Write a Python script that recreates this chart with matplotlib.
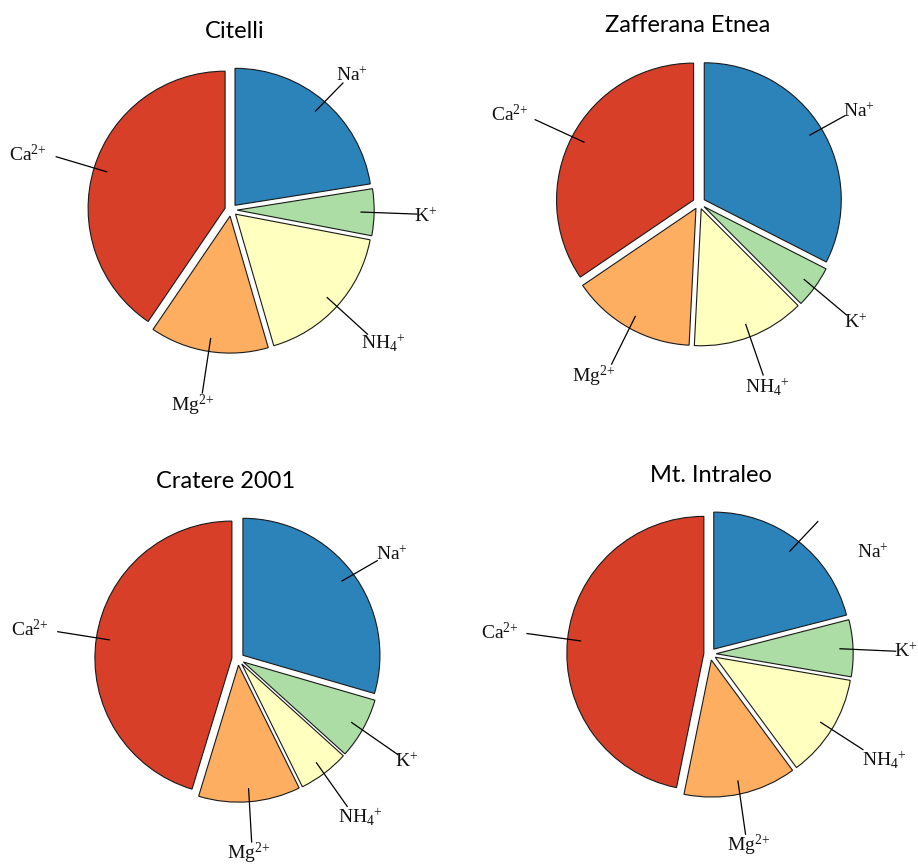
import numpy as np
import matplotlib
matplotlib.use("Agg")
import matplotlib.pyplot as plt

plt.rcParams["mathtext.fontset"] = "custom"
plt.rcParams["mathtext.rm"] = "Liberation Serif"
plt.rcParams["mathtext.it"] = "Liberation Serif"
plt.rcParams["mathtext.default"] = "rm"

# ---- data (percent of cations) ----
ION_LABELS = [r"Na$^{+}$", r"K$^{+}$", r"NH$_{4}{}^{+}$", r"Mg$^{2\!+}$", r"Ca$^{2\!+}$"]
ION_COLORS = ["#2C83BA", "#ABDDA4", "#FFFFBF", "#FDAE61", "#D73F29"]

SITES = ["Citelli", "Zafferana Etnea", "Cratere 2001", "Mt. Intraleo"]
CITELLI = [22.5, 5.5, 17.5, 14.0, 40.5]
ZAFFERANA = [32.5, 5.0, 13.3, 14.7, 34.5]
CRATERE = [29.5, 7.2, 6.0, 12.0, 45.3]
INTRALEO = [21.0, 6.7, 12.2, 13.3, 46.8]
VALUES = [CITELLI, ZAFFERANA, CRATERE, INTRALEO]

# ---- layout (pixels / radius units) ----
W, H = 918, 865
R = 137
CENTERS = [(231, 210), (699, 203), (238, 659), (710, 654)]
TITLE_POS = [(235, 38), (688, 32), (226, 488), (711, 482)]
# leader-line ends, relative to pie centre, in radius units
LINE_END = [
    [(0.82, 0.93), (1.36, -0.03), (1.00, -0.91), (-0.21, -1.34), (-1.28, 0.39)],
    [(1.07, 0.64), (1.08, -0.82), (0.47, -1.26), (-0.64, -1.18), (-1.20, 0.61)],
    [(1.02, 0.72), (1.17, -0.70), (0.80, -1.08), (0.10, -1.34), (-1.32, 0.20)],
    [(0.79, 0.97), (1.36, 0.02), (1.12, -0.70), (0.26, -1.32), (-1.34, 0.15)],
]
# label anchors (centre x, cap-centre y)
LABEL_POS = [
    [(0.88, 0.99), (1.42, -0.04), (1.11, -0.97), (-0.28, -1.42), (-1.48, 0.41)],
    [(1.17, 0.68), (1.14, -0.86), (0.50, -1.34), (-0.77, -1.26), (-1.38, 0.65)],
    [(1.12, 0.77), (1.23, -0.74), (0.89, -1.15), (0.08, -1.41), (-1.52, 0.22)],
    [(1.19, 0.75), (1.43, 0.03), (1.27, -0.77), (0.28, -1.39), (-1.53, 0.16)],
]

fig = plt.figure(figsize=(W / 100, H / 100), dpi=100)

half = 1.7
for site, vals, (cx, cy), tpos, ends, labs in zip(
        SITES, VALUES, CENTERS, TITLE_POS, LINE_END, LABEL_POS):
    ax = fig.add_axes([(cx - half * R) / W, (H - cy - half * R) / H,
                       2 * half * R / W, 2 * half * R / H])
    wedges, _ = ax.pie(vals, colors=ION_COLORS, startangle=90, counterclock=False,
                       explode=[0.045] * len(vals), radius=1.0,
                       wedgeprops=dict(edgecolor="#1a1a1a", linewidth=0.8))
    ax.set_xlim(-half, half)
    ax.set_ylim(-half, half)
    ax.set_aspect("equal")
    ax.axis("off")

    for w, lab, (ex, ey), (lx, ly) in zip(wedges, ION_LABELS, ends, labs):
        mid = np.deg2rad((w.theta1 + w.theta2) / 2)
        sx = w.center[0] + 0.9 * np.cos(mid)
        sy = w.center[1] + 0.9 * np.sin(mid)
        ax.plot([sx, ex], [sy, ey], color="black", linewidth=0.9,
                solid_capstyle="butt", clip_on=False)
        ax.text(lx, ly - 0.05, lab, ha="center", va="baseline",
                fontsize=14, family="Liberation Serif", color="#111111")

    fig.text(tpos[0] / W, 1 - tpos[1] / H, site, ha="center", va="baseline",
             fontsize=17, family="Lato", color="black")

plt.savefig("out.png", dpi=100)
